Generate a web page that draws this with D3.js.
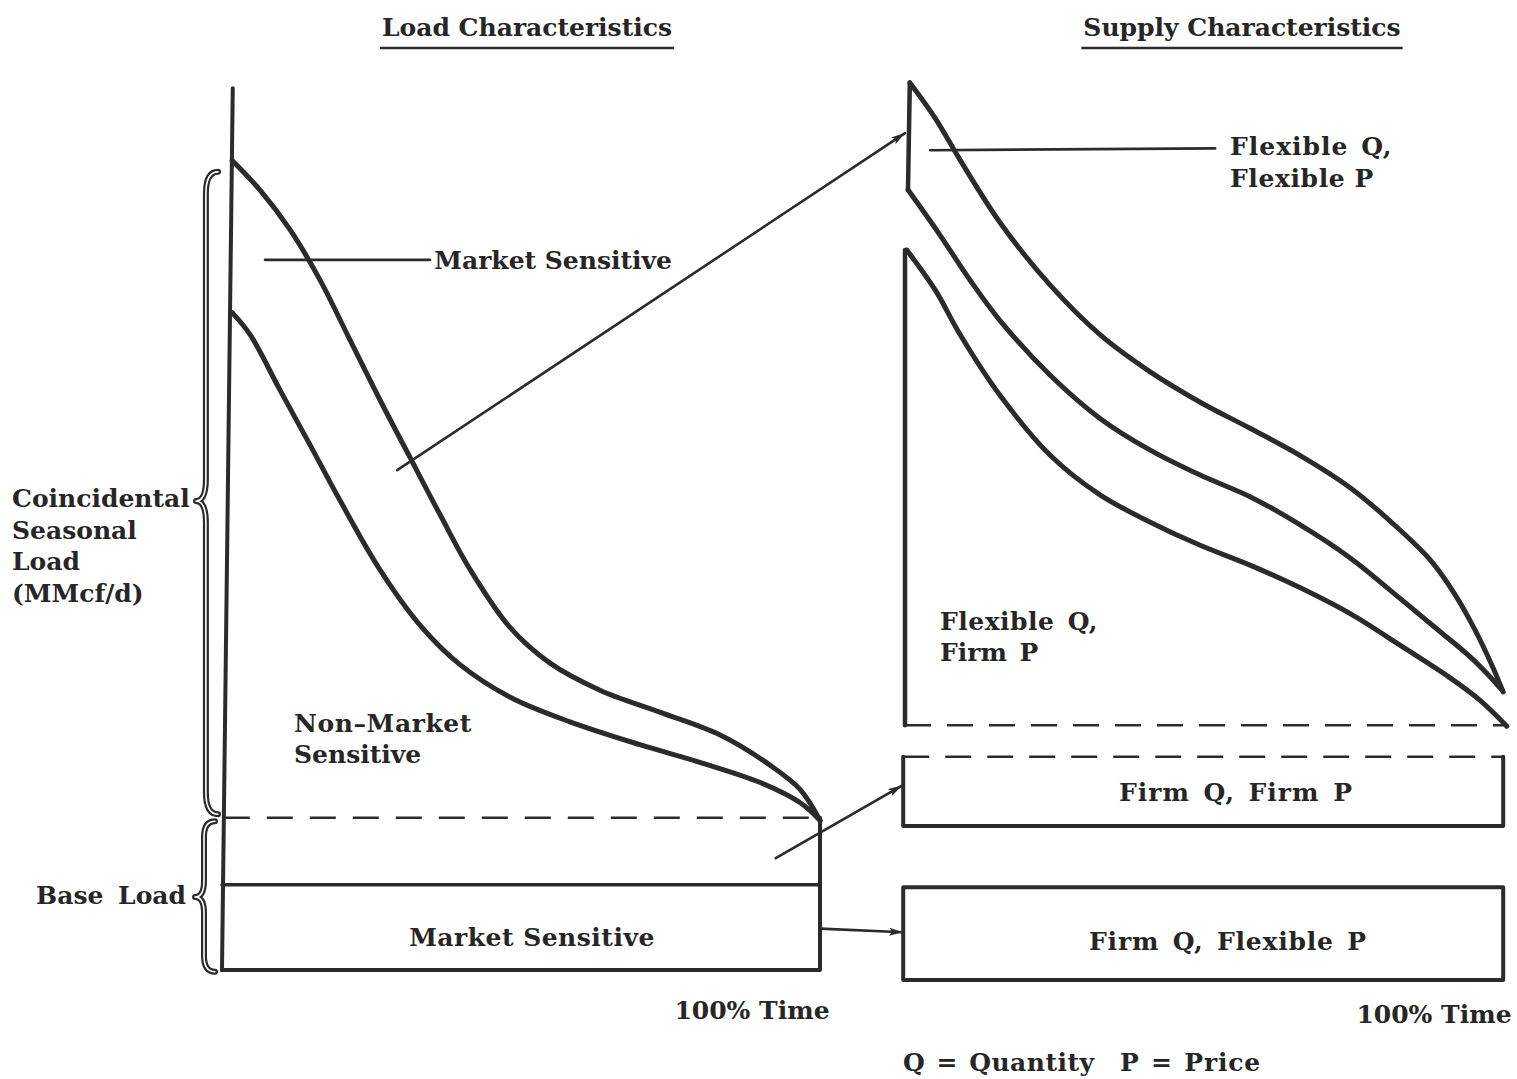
<!DOCTYPE html>
<html>
<head>
<meta charset="utf-8">
<script src="https://cdn.jsdelivr.net/npm/d3@7/dist/d3.min.js"></script>
<style>
  html, body { margin: 0; padding: 0; background: #fff; }
  svg { display: block; }
  text { font-family: "DejaVu Serif", "Liberation Serif", serif; font-weight: bold; fill: #262626; }
</style>
</head>
<body>
<svg id="chart" width="1517" height="1079"></svg>
<script>
// ---------------- DATA ----------------
// Load duration curves (left panel): time in % of period, load in relative units (0-100)
const loadUpperTime  = [1.7, 6.4, 11.4, 16.4, 21.4, 26.4, 31.4, 36.5, 41.5, 48.2, 54.8, 63.2, 73.2, 83.3, 91.6, 96.7, 100];
const loadUpperValue = [92.0, 88.6, 84.1, 78.4, 71.6, 64.8, 58.3, 51.7, 45.5, 38.9, 34.9, 31.8, 29.3, 26.7, 23.3, 20.5, 17.0];
const loadLowerTime  = [1.7, 4.7, 9.7, 14.7, 19.7, 26.4, 33.1, 39.8, 48.2, 58.2, 69.9, 79.9, 90.0, 96.7, 100];
const loadLowerValue = [74.7, 72.2, 65.9, 59.7, 53.4, 45.5, 39.2, 34.7, 31.0, 28.2, 25.6, 23.6, 21.3, 19.0, 17.0];
const baseLoadLevels = [9.7, 17.3];          // top of market-sensitive base, top of base load (dashed)
const loadAxisTop = 100.2;

// Supply curves (right panel)
const supplyTopTime  = [0.8, 5, 9.2, 15.8, 24.2, 32.5, 40.8, 49.2, 57.5, 65.8, 74.2, 82.5, 87.5, 91.7, 95.0, 97.8, 99.7];
const supplyTopValue = [99.7, 95.8, 91.1, 84.2, 77.2, 71.7, 67.6, 64.2, 61.3, 58.3, 54.7, 50.0, 46.7, 42.8, 38.9, 35.0, 32.0];
const supplyMidTime  = [0.5, 5.8, 10.8, 15.8, 24.2, 32.5, 40.8, 49.2, 57.5, 65.8, 74.2, 82.5, 89.2, 94.2, 97.5, 99.5];
const supplyMidValue = [87.8, 82.8, 77.8, 73.3, 67.2, 62.4, 58.9, 56.1, 53.7, 50.6, 46.9, 42.4, 38.7, 35.9, 33.7, 32.2];
const supplyLowTime  = [0.3, 5, 9.2, 15.8, 24.2, 32.5, 40.8, 49.2, 57.5, 65.8, 74.2, 82.5, 90.8, 95.8, 100.3];
const supplyLowValue = [81.1, 76.7, 71.7, 65.0, 58.3, 53.9, 50.9, 48.3, 46.1, 43.6, 40.7, 37.2, 33.6, 31.1, 28.2];
const supplyFlexBottom = 28.3;
const firmFirmBox = [17.1, 24.8];
const firmFlexBox = [0, 10.3];

// Text
const titles = ["Load Characteristics", "Supply Characteristics"];
const axisLabelLines = ["Coincidental", "Seasonal", "Load", "(MMcf/d)"];
const baseLoadLabel = "Base Load";
const loadLabels = ["Market Sensitive", "Non\u2013Market", "Sensitive", "Market Sensitive"];
const supplyLabels = ["Flexible Q,", "Flexible P", "Flexible Q,", "Firm P", "Firm Q, Firm P", "Firm Q, Flexible P"];
const timeLabel = "100% Time";
const footnote = ["Q = Quantity", "P = Price"];

// ---------------- SCALES ----------------
const svg = d3.select("#chart");
const xL = d3.scaleLinear().domain([0, 100]).range([222, 820]);
const yL = d3.scaleLinear().domain([0, 100]).range([970, 90]);
const xR = d3.scaleLinear().domain([0, 100]).range([905, 1505]);
const yR = d3.scaleLinear().domain([0, 100]).range([980, 80]);

const ink = "#2b2b2b";
const zip = (a, b) => a.map((v, i) => [v, b[i]]);
const lineL = d3.line().x(d => xL(d[0])).y(d => yL(d[1])).curve(d3.curveCatmullRom.alpha(0.5));
const lineR = d3.line().x(d => xR(d[0])).y(d => yR(d[1])).curve(d3.curveCatmullRom.alpha(0.5));
const straight = d3.line();

const g = svg.append("g").attr("fill", "none").attr("stroke", ink).attr("stroke-linecap", "round").attr("stroke-linejoin", "round");

// ---------------- LEFT PANEL ----------------
g.append("path").attr("stroke-width", 4)
  .attr("d", straight([[xL(1.8), yL(loadAxisTop)], [xL(0), yL(0)]]));
g.append("path").attr("stroke-width", 4)
  .attr("d", straight([[xL(0), yL(0)], [xL(100), yL(0)], [xL(100), yL(baseLoadLevels[1])]]));
g.append("path").attr("stroke-width", 3.5)
  .attr("d", straight([[xL(0), yL(baseLoadLevels[0])], [xL(100), yL(baseLoadLevels[0])]]));
g.append("path").attr("stroke-width", 2.5).attr("stroke-dasharray", "26 17").attr("stroke-linecap", "butt")
  .attr("d", straight([[xL(0.3), yL(baseLoadLevels[1])], [xL(100), yL(baseLoadLevels[1])]]));
g.append("path").attr("stroke-width", 5).attr("d", lineL(zip(loadUpperTime, loadUpperValue)));
g.append("path").attr("stroke-width", 5).attr("d", lineL(zip(loadLowerTime, loadLowerValue)));

// ---------------- RIGHT PANEL ----------------
g.append("path").attr("stroke-width", 4.5)
  .attr("d", straight([[xR(supplyMidTime[0]), yR(supplyMidValue[0])], [xR(supplyTopTime[0]), yR(supplyTopValue[0])]]));
g.append("path").attr("stroke-width", 5).attr("d", lineR(zip(supplyTopTime, supplyTopValue)));
g.append("path").attr("stroke-width", 5).attr("d", lineR(zip(supplyMidTime, supplyMidValue)));
g.append("path").attr("stroke-width", 4.5)
  .attr("d", straight([[xR(0), yR(supplyFlexBottom)], [xR(0), yR(supplyLowValue[0])], [xR(supplyLowTime[0]), yR(supplyLowValue[0])]]));
g.append("path").attr("stroke-width", 5).attr("d", lineR(zip(supplyLowTime, supplyLowValue)));
g.append("path").attr("stroke-width", 2.5).attr("stroke-dasharray", "26 16").attr("stroke-linecap", "butt")
  .attr("d", straight([[xR(0), yR(supplyFlexBottom)], [xR(100), yR(supplyFlexBottom)]]));

g.append("path").attr("stroke-width", 4)
  .attr("d", straight([[xR(-0.3), yR(firmFirmBox[1])], [xR(-0.3), yR(firmFirmBox[0])], [xR(99.7), yR(firmFirmBox[0])], [xR(99.7), yR(firmFirmBox[1])]]));
g.append("path").attr("stroke-width", 2.5).attr("stroke-dasharray", "26 16").attr("stroke-linecap", "butt")
  .attr("d", straight([[xR(-0.3), yR(firmFirmBox[1])], [xR(99.7), yR(firmFirmBox[1])]]));
g.append("path").attr("stroke-width", 4)
  .attr("d", straight([[xR(-0.3), yR(firmFlexBox[0])], [xR(-0.3), yR(firmFlexBox[1])], [xR(99.7), yR(firmFlexBox[1])], [xR(99.7), yR(firmFlexBox[0])], [xR(-0.3), yR(firmFlexBox[0])]]) + "Z");

// ---------------- ARROWS & LEADERS ----------------
svg.append("defs").append("marker")
  .attr("id", "head").attr("viewBox", "0 0 14 9").attr("refX", 14).attr("refY", 4.5)
  .attr("markerWidth", 14).attr("markerHeight", 9).attr("markerUnits", "userSpaceOnUse").attr("orient", "auto")
  .append("path").attr("d", "M0,0.5 L14,4.5 L0,8.5 L3,4.5 Z").attr("fill", ink);

const arrows = [
  [[xL(29.3), yL(56.8)], [xR(0), yR(94.1)]],
  [[xL(92.6), yL(12.7)], [xR(-0.5), yR(21.6)]],
  [[xL(100), yL(4.7)], [xR(-0.3), yR(5.3)]]
];
arrows.forEach(a => {
  g.append("path").attr("stroke-width", 2.6).attr("marker-end", "url(#head)").attr("d", straight(a));
});
g.append("path").attr("stroke-width", 2.6).attr("d", straight([[xL(7.2), yL(80.7)], [xL(34.8), yL(80.7)]]));
g.append("path").attr("stroke-width", 2.6).attr("d", straight([[xR(4.2), yR(92.2)], [xR(51.7), yR(92.4)]]));

// ---------------- BRACES ----------------
function bracePath(x0, y0, y1, ym, w, r) {
  const xm = x0 - w * 0.55, xt = x0 - w;
  return `M${x0},${y0} Q${xm},${y0} ${xm},${y0 + r} L${xm},${ym - r} Q${xm},${ym} ${xt},${ym} ` +
         `Q${xm},${ym} ${xm},${ym + r} L${xm},${y1 - r} Q${xm},${y1} ${x0},${y1}`;
}
const braces = [
  bracePath(218, yL(90.7), yL(17.7), yL(53.3), 22, 22),
  bracePath(215, yL(16.9), yL(-0.2), yL(8.3), 20, 16)
];
braces.forEach(d => {
  g.append("path").attr("stroke-width", 6).attr("d", d);
  g.append("path").attr("stroke-width", 1.6).attr("stroke", "#fff").attr("d", d);
});

// ---------------- TEXT ----------------
const T = svg.append("g").attr("font-size", 25);
function txt(s, x, y, anchor) {
  return T.append("text").attr("x", x).attr("y", y).attr("text-anchor", anchor || "start").text(s);
}
[[titles[0], 527], [titles[1], 1242]].forEach(([s, cx]) => {
  const t = txt(s, cx, 36, "middle");
  const bb = t.node().getBBox();
  g.append("path").attr("stroke-width", 2.5).attr("stroke-linecap", "butt")
    .attr("d", straight([[bb.x - 2, 48], [bb.x + bb.width + 2, 48]]));
});
axisLabelLines.forEach((s, i) => txt(s, 12, 507 + i * 31.5));
txt(baseLoadLabel, 186, 904, "end").attr("word-spacing", 6);
txt(loadLabels[0], xL(35.5), 269);
txt(loadLabels[1], 294, 732).attr("letter-spacing", 0.6);
txt(loadLabels[2], 294, 763);
txt(loadLabels[3], 532, 946, "middle").attr("letter-spacing", 0.5);
txt(timeLabel, 752, 1019, "middle");
txt(timeLabel, 1434, 1023, "middle");
txt(supplyLabels[0], 1230, 155).attr("letter-spacing", 1).attr("word-spacing", 3);
txt(supplyLabels[1], 1230, 187).attr("letter-spacing", 0.6);
txt(supplyLabels[2], 940, 630).attr("letter-spacing", 0.5).attr("word-spacing", 4);
txt(supplyLabels[3], 940, 661).attr("word-spacing", 4);
txt(supplyLabels[4], 1236, 801, "middle").attr("letter-spacing", 1).attr("word-spacing", 4);
txt(supplyLabels[5], 1228, 950, "middle").attr("letter-spacing", 0.8).attr("word-spacing", 4);
txt(footnote[0], 903, 1071).attr("letter-spacing", 0.5).attr("word-spacing", 2);
txt(footnote[1], 1120, 1071).attr("letter-spacing", 0.8).attr("word-spacing", 2);
</script>
</body>
</html>
